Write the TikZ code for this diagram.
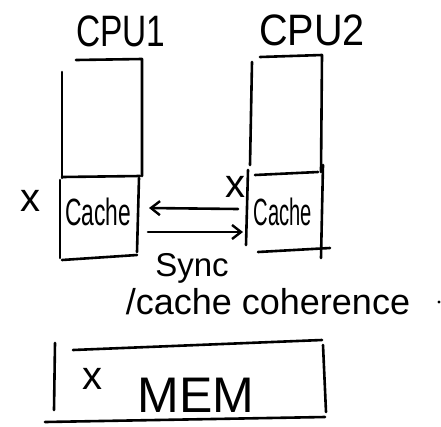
\documentclass[tikz,border=0pt]{standalone}
\usepackage{fontspec}
\setmainfont{Liberation Sans}
\usetikzlibrary{arrows.meta}
\tikzset{
  pen/.style={line width=2.6pt, line cap=round, line join=round, black},
  lbl/.style={inner sep=0pt, anchor=center, text=black},
  syncarrow/.style={pen, -{Straight Barb[length=9pt,width=14pt,line width=2.4pt]}},
}
\begin{document}
\begin{tikzpicture}[x=1pt,y=-1pt]
\useasboundingbox[fill=white] (0,0) rectangle (441,426);

% processor titles
\node[lbl, font=\fontsize{44}{44}\selectfont, xscale=0.76] (cpu1) at (121,31) {CPU1};
\node[lbl, font=\fontsize{44}{44}\selectfont, xscale=0.9] (cpu2) at (312,30) {CPU2};

% CPU1 body and its cache
\draw[pen] (76,60) -- (142,59) -- (142,176);
\draw[pen] (62,72) -- (62,178);
\draw[pen] (62,177) -- (140,176);
\draw[pen] (60,180) -- (60,258);
\draw[pen] (139,178) -- (137,252);
\draw[pen] (62,260) -- (137,255);

% CPU2 body and its cache
\draw[pen] (260,57) -- (322,55) -- (321,172);
\draw[pen] (252,62) -- (250,165);
\draw[pen] (255,175) -- (318,172);
\draw[pen] (248,170) -- (246,245);
\draw[pen] (323,165) -- (321,258);
\draw[pen] (258,252) -- (330,248);

% cache labels and the value x
\node[lbl, font=\fontsize{38}{38}\selectfont, xscale=0.6] (cache1) at (98,212) {Cache};
\node[lbl, font=\fontsize{38}{38}\selectfont, xscale=0.53] (cache2) at (283,212) {Cache};
\node[lbl, font=\fontsize{40}{40}\selectfont] (x1) at (30,201) {x};
\node[lbl, font=\fontsize{40}{40}\selectfont] (x2) at (235,187) {x};

% synchronisation arrows between the caches
\coordinate (a1s) at (238,209);
\coordinate (a1e) at (149,208);
\coordinate (a2s) at (148,232);
\coordinate (a2e) at (243,232);
\draw[syncarrow] (a1s) -- (a1e);
\draw[syncarrow] (a2s) -- (a2e);

\node[lbl, font=\fontsize{33}{33}\selectfont] (sync) at (192,268) {Sync};
\node[lbl, font=\fontsize{36}{36}\selectfont] (coh) at (268,302) {/cache coherence};
\fill (439,302) circle (1.6);

% main memory
\draw[pen] (73,350) -- (322,340);
\draw[pen] (55,343) -- (54,410);
\draw[pen] (323,345) -- (326,412);
\draw[pen] (45,422) -- (325,417);
\node[lbl, font=\fontsize{40}{40}\selectfont] (xm) at (92,379) {x};
\node[lbl, font=\fontsize{50}{50}\selectfont] (mem) at (196,395) {MEM};
\end{tikzpicture}
\end{document}
